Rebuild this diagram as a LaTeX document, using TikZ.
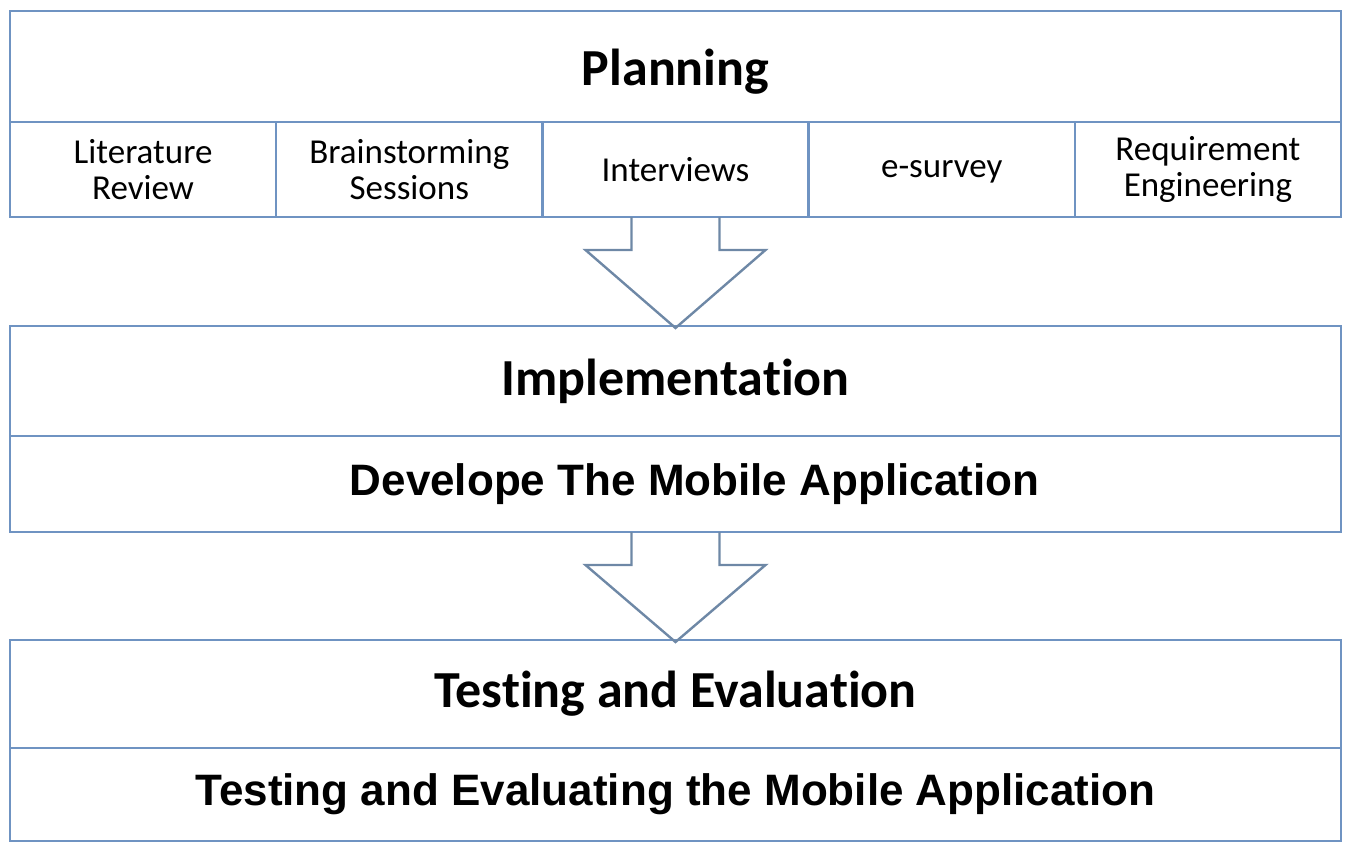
\documentclass[tikz,border=0pt]{standalone}
\usepackage{fontspec}
\setmainfont{Carlito}[Ligatures=NoCommon]
\newfontfamily\arialfont{Liberation Sans}
\usepackage{tikz}
\usetikzlibrary{positioning,calc}
\definecolor{rahmen}{HTML}{6F93C2}
\definecolor{pfeil}{HTML}{6E88A6}

\begin{document}
\begin{tikzpicture}[
    x=0.5pt, y=-0.5pt,
    band/.style={draw=rahmen, line width=1.2pt, minimum width=665.5pt, inner sep=0pt,
                 outer sep=0pt, align=center},
    head/.style={band, font=\fontsize{26}{30}\selectfont\bfseries},
    sub/.style={band, font=\arialfont\fontsize{22}{26}\selectfont\bfseries},
    cell/.style={draw=rahmen, line width=1.2pt, minimum width=133.1pt, minimum height=47.5pt,
                 inner sep=0pt, outer sep=0pt, align=center, font=\fontsize{17.5}{18}\selectfont},
    blk/.style={draw=pfeil, line width=1.2pt, line join=miter}
  ]
  \useasboundingbox (0,0) rectangle (1346,842);

  % Planning with its five activities
  \node[head, minimum height=55.5pt] (plan) at (675.5,66.5) {\rule{0pt}{23.5pt}Planning};
  \node[cell, anchor=north west] (c1) at (plan.south west) {Literature\\Review};
  \node[cell, right=0pt of c1] (c2) {Brainstorming\\Sessions};
  \node[cell, right=0pt of c2] (c3) {Interviews};
  \node[cell, right=0pt of c3] (c4) {\vphantom{I}e-survey};
  \node[cell, right=0pt of c4] (c5) {Requirement\\Engineering};

  % Implementation
  \node[head, minimum height=55pt] (impl) at (675.5,381) {Implementation};
  \node[sub, minimum height=48pt, below=0pt of impl] (dev) {\hspace*{19pt}Develope The Mobile Application};

  % Testing
  \node[head, minimum height=54pt] (test) at (675.5,694) {Testing and Evaluation};
  \node[sub, minimum height=46.5pt, below=0pt of test] (eval) {Testing and Evaluating the Mobile Application};

  % block arrows between the stages
  \foreach \von/\nach in {c3/impl, dev/test} {
    \draw[blk] ($(\von.south)+(-44,0)$) -- ++(0,33) -- ++(-46,0)
      -- ($(\nach.north)+(0,2)$) -- ($(\von.south)+(90,33)$) -- ++(-46,0) -- ++(0,-33);
  }
\end{tikzpicture}
\end{document}
